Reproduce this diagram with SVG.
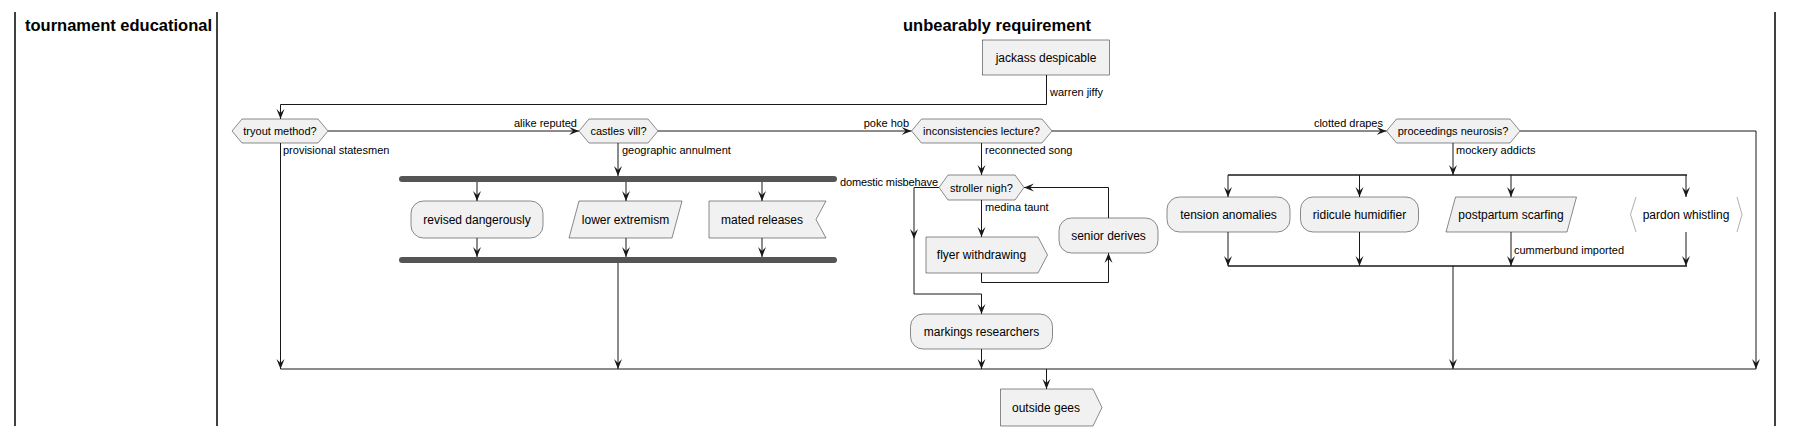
<svg xmlns="http://www.w3.org/2000/svg" width="1793" height="436" viewBox="0 0 1793 436">
<style>
text{font-family:"Liberation Sans",Arial,sans-serif;fill:#000}
.title{font-size:16.5px;font-weight:bold}
.nt{font-size:12px;text-anchor:middle}
.lb{font-size:11px}
.lbr{font-size:11px;text-anchor:end}
.node{fill:#F1F1F1;stroke:#181818;stroke-width:0.5}
.lane{stroke:#000;stroke-width:1.5;fill:none}
.c{fill:none;stroke:#181818;stroke-width:1}
.bar{fill:#555555;stroke:none}
.ah{fill:#181818}
</style>
<defs>
<marker id="arr" viewBox="0 0 10 10" markerWidth="10" markerHeight="10" refX="10" refY="5" orient="auto" markerUnits="userSpaceOnUse">
<path d="M10,5 L0,1 L4,5 L0,9 Z" fill="#181818"/>
</marker>
</defs>

<g id="lanes">
<line class="lane" x1="15" y1="12" x2="15" y2="426"/>
<line class="lane" x1="217" y1="12" x2="217" y2="426"/>
<line class="lane" x1="1775" y1="12" x2="1775" y2="426"/>
<text class="title" x="25" y="31">tournament educational</text>
<text class="title" x="903" y="31">unbearably requirement</text>
</g>

<g id="connectors">
<polyline class="c" points="1046.5,75 1046.5,104.5 280.5,104.5 280.5,119" marker-end="url(#arr)"/>
<line class="c" x1="328" y1="131" x2="579" y2="131" marker-end="url(#arr)"/>
<line class="c" x1="658" y1="131" x2="911.5" y2="131" marker-end="url(#arr)"/>
<line class="c" x1="1052" y1="131" x2="1386.5" y2="131" marker-end="url(#arr)"/>
<polyline class="c" points="1520,131 1756,131 1756,369" marker-end="url(#arr)"/>
<line class="c" x1="280.5" y1="143" x2="280.5" y2="369" marker-end="url(#arr)"/>
<line class="c" x1="618" y1="143" x2="618" y2="176" marker-end="url(#arr)"/>
<line class="c" x1="477" y1="182" x2="477" y2="201" marker-end="url(#arr)"/>
<line class="c" x1="626" y1="182" x2="626" y2="201" marker-end="url(#arr)"/>
<line class="c" x1="762" y1="182" x2="762" y2="201" marker-end="url(#arr)"/>
<line class="c" x1="477" y1="238" x2="477" y2="257" marker-end="url(#arr)"/>
<line class="c" x1="626" y1="238" x2="626" y2="257" marker-end="url(#arr)"/>
<line class="c" x1="762" y1="238" x2="762" y2="257" marker-end="url(#arr)"/>
<line class="c" x1="618" y1="263" x2="618" y2="369" marker-end="url(#arr)"/>
<line class="c" x1="981.5" y1="143" x2="981.5" y2="175" marker-end="url(#arr)"/>
<line class="c" x1="981.5" y1="200" x2="981.5" y2="237" marker-end="url(#arr)"/>
<polyline class="c" points="981.5,273 981.5,282.5 1108.5,282.5 1108.5,253" marker-end="url(#arr)"/>
<polyline class="c" points="1108.5,218 1108.5,187.5 1024,187.5" marker-end="url(#arr)"/>
<polyline class="c" points="939,187.5 914,187.5 914,294 981.5,294 981.5,314" marker-end="url(#arr)"/>
<path class="ah" d="M914,239 L910,229 L914,233 L918,229 Z"/>
<line class="c" x1="981.5" y1="349" x2="981.5" y2="369" marker-end="url(#arr)"/>
<line class="c" x1="280.5" y1="369" x2="1756" y2="369"/>
<line class="c" x1="1046.5" y1="369" x2="1046.5" y2="389" marker-end="url(#arr)"/>
<line class="c" x1="1453" y1="143" x2="1453" y2="175" marker-end="url(#arr)"/>
<line class="c" x1="1228" y1="175" x2="1687" y2="175" style="stroke-width:1.6"/>
<line class="c" x1="1228" y1="175" x2="1228" y2="197" marker-end="url(#arr)"/>
<line class="c" x1="1359.5" y1="175" x2="1359.5" y2="197" marker-end="url(#arr)"/>
<line class="c" x1="1511" y1="175" x2="1511" y2="197" marker-end="url(#arr)"/>
<line class="c" x1="1686" y1="175" x2="1686" y2="197" marker-end="url(#arr)"/>
<line class="c" x1="1228" y1="232" x2="1228" y2="266" marker-end="url(#arr)"/>
<line class="c" x1="1359.5" y1="232" x2="1359.5" y2="266" marker-end="url(#arr)"/>
<line class="c" x1="1511" y1="232" x2="1511" y2="266" marker-end="url(#arr)"/>
<line class="c" x1="1686" y1="232" x2="1686" y2="266" marker-end="url(#arr)"/>
<line class="c" x1="1228" y1="266" x2="1687" y2="266" style="stroke-width:1.6"/>
<line class="c" x1="1453" y1="266" x2="1453" y2="369" marker-end="url(#arr)"/>
<text class="lb" x="1050" y="96">warren jiffy</text>
<text class="lbr" x="577" y="127">alike reputed</text>
<text class="lbr" x="909" y="127">poke hob</text>
<text class="lbr" x="1383" y="127">clotted drapes</text>
<text class="lb" x="283" y="154">provisional statesmen</text>
<text class="lb" x="622" y="154">geographic annulment</text>
<text class="lb" x="985" y="154">reconnected song</text>
<text class="lb" x="1456" y="154">mockery addicts</text>
<text class="lb" x="840" y="186" textLength="98">domestic misbehave</text>
<text class="lb" x="985" y="211">medina taunt</text>
<text class="lb" x="1514" y="254">cummerbund imported</text>
</g>

<g id="n-jackass"><rect class="node" x="982.5" y="40" width="127" height="35"/><text class="nt" x="1046" y="62">jackass despicable</text></g>
<g id="n-tryout"><polygon class="node" points="232,131 242,119 318,119 328,131 318,143 242,143"/><text class="lb" x="280" y="135" text-anchor="middle">tryout method?</text></g>
<g id="n-castles"><polygon class="node" points="579,131 589,119 648,119 658,131 648,143 589,143"/><text class="lb" x="618.5" y="135" text-anchor="middle">castles vill?</text></g>
<g id="n-incons"><polygon class="node" points="911.5,131 921.5,119 1042,119 1052,131 1042,143 921.5,143"/><text class="lb" x="981.5" y="135" text-anchor="middle">inconsistencies lecture?</text></g>
<g id="n-proceed"><polygon class="node" points="1386.5,131 1396.5,119 1510,119 1520,131 1510,143 1396.5,143"/><text class="lb" x="1453" y="135" text-anchor="middle">proceedings neurosis?</text></g>
<g id="n-fork1"><rect class="bar" x="399" y="176" width="438" height="6" rx="3"/></g>
<g id="n-join1"><rect class="bar" x="399" y="257" width="438" height="6" rx="3"/></g>
<g id="n-revised"><rect class="node" x="411" y="201" width="132" height="37" rx="12.5"/><text class="nt" x="477" y="224">revised dangerously</text></g>
<g id="n-lower"><polygon class="node" points="569,238 579,201 682,201 672,238"/><text class="nt" x="625.5" y="224">lower extremism</text></g>
<g id="n-mated"><polygon class="node" points="709,201 826,201 816,219.5 826,238 709,238"/><text class="nt" x="762" y="224">mated releases</text></g>
<g id="n-stroller"><polygon class="node" points="939,187.5 948,175 1015,175 1024,187.5 1015,200 948,200"/><text class="lb" x="981.5" y="191.5" text-anchor="middle">stroller nigh?</text></g>
<g id="n-flyer"><polygon class="node" points="926,237 1038,237 1047.5,255 1038,273 926,273"/><text class="nt" x="981.5" y="259">flyer withdrawing</text></g>
<g id="n-senior"><rect class="node" x="1059" y="218" width="99" height="35" rx="12.5"/><text class="nt" x="1108.5" y="240">senior derives</text></g>
<g id="n-markings"><rect class="node" x="910.5" y="314" width="142" height="35" rx="12.5"/><text class="nt" x="981.5" y="336">markings researchers</text></g>
<g id="n-outside"><polygon class="node" points="1000.5,389 1093,389 1102,407.5 1093,426 1000.5,426"/><text class="nt" x="1046" y="412">outside gees</text></g>
<g id="n-tension"><rect class="node" x="1167" y="197" width="123" height="35" rx="12.5"/><text class="nt" x="1228.5" y="219">tension anomalies</text></g>
<g id="n-ridicule"><rect class="node" x="1300.5" y="197" width="118" height="35" rx="12.5"/><text class="nt" x="1359.5" y="219">ridicule humidifier</text></g>
<g id="n-postpartum"><polygon class="node" points="1446,232 1455.5,197 1576.5,197 1567,232"/><text class="nt" x="1511" y="219">postpartum scarfing</text></g>
<g id="n-pardon"><polyline points="1636,197 1630.5,214.5 1636,232" fill="none" stroke="#999" stroke-width="0.8"/><polyline points="1737,197 1742,214.5 1737,232" fill="none" stroke="#999" stroke-width="0.8"/><text class="nt" x="1686" y="219">pardon whistling</text></g>
</svg>
